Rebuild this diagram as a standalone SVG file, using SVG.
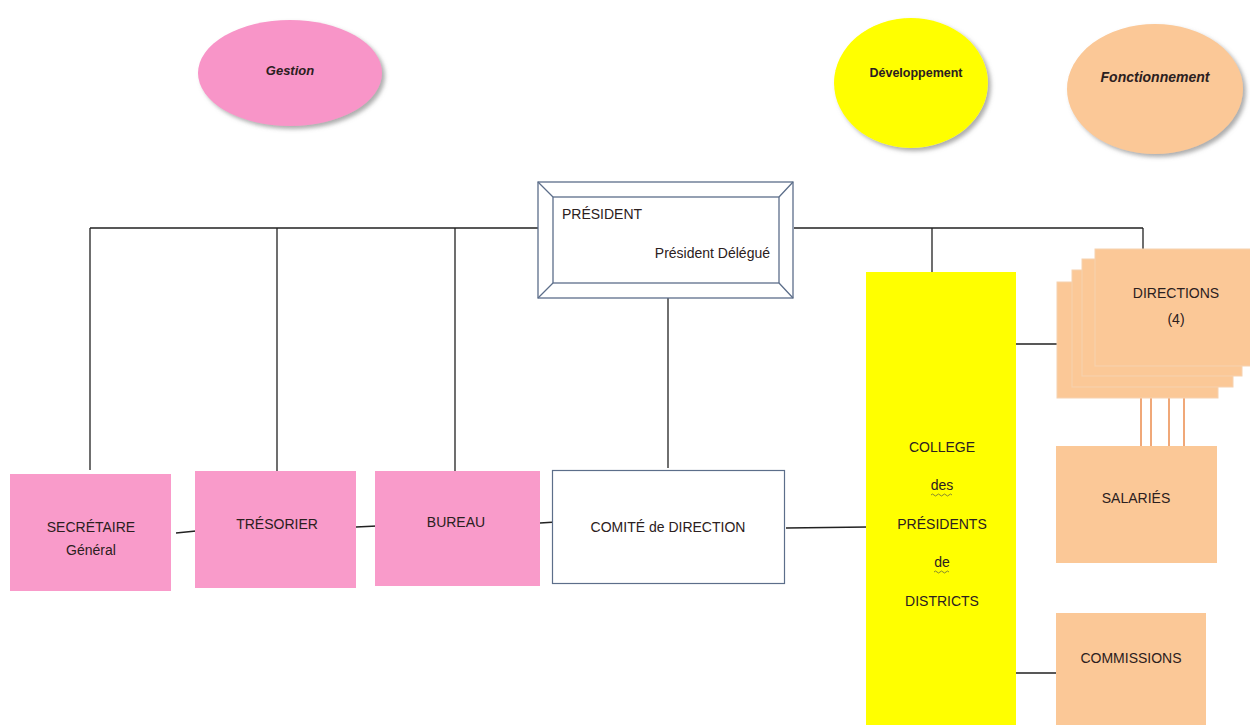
<svg xmlns="http://www.w3.org/2000/svg" width="1250" height="725" viewBox="0 0 1250 725">
<defs>
<filter id="sh" x="-20%" y="-20%" width="150%" height="150%">
<feDropShadow dx="3" dy="3" stdDeviation="2" flood-color="#777" flood-opacity="0.6"/>
</filter>
<style>
text{font-family:"Liberation Sans",Arial,sans-serif;font-size:14px;fill:#2b2020;text-anchor:middle}
.ell{font-weight:bold;font-size:13px}
.it{font-style:italic}
.pink{fill:#F99BCA}
.yel{fill:#FFFF00}
.peach{fill:#FBC897}
.con{stroke:#222;stroke-width:1.3;fill:none}
.or{stroke:#F0A878;stroke-width:2;fill:none}
.frame{stroke:#5C6E8A;stroke-width:1.3;fill:#fff}
.wavy{stroke:#6b6b3a;stroke-width:0.8;fill:none}
</style>
</defs>
<rect width="1250" height="725" fill="#fff"/>

<g id="connectors">
<path class="con" d="M90 228H538M794 228H1143"/>
<path class="con" d="M90 228V470M277 228V471M455 228V471M932 228V272M1143 228V250"/>
<path class="con" d="M668 298V468"/>
<path class="con" d="M176 533L196 531M356 527L377 526M540 523L556 522M786 528L868 527"/>
<path class="con" d="M1016 344H1057M1016 673H1056"/>
<path class="or" d="M1141 398V446M1151 387V446M1169 376V446M1184 366V446"/>
</g>

<g id="gestion">
<ellipse cx="290" cy="73" rx="92" ry="53" fill="#F895C8" filter="url(#sh)"/>
<text class="ell it" x="290" y="75">Gestion</text>
</g>
<g id="developpement">
<ellipse cx="911" cy="83" rx="77" ry="65" class="yel" filter="url(#sh)"/>
<text class="ell" x="916" y="77" style="font-size:12.5px">Développement</text>
</g>
<g id="fonctionnement">
<ellipse cx="1155" cy="89" rx="88" ry="65" class="peach" filter="url(#sh)"/>
<text class="ell it" x="1155" y="82" style="font-size:14px">Fonctionnement</text>
</g>

<g id="president">
<rect class="frame" x="538" y="182" width="255" height="116"/>
<rect class="frame" x="553" y="197" width="226" height="86"/>
<path class="frame" d="M538 182L553 197M793 182L779 197M538 298L553 283M793 298L779 283"/>
<text x="562" y="219" style="text-anchor:start">PRÉSIDENT</text>
<text x="770" y="258" style="text-anchor:end">Président Délégué</text>
</g>

<g id="secretaire">
<rect class="pink" x="10" y="474" width="161" height="117"/>
<text x="91" y="532">SECRÉTAIRE</text>
<text x="91" y="555">Général</text>
</g>
<g id="tresorier">
<rect class="pink" x="195" y="471" width="161" height="117"/>
<text x="277" y="529">TRÉSORIER</text>
</g>
<g id="bureau">
<rect class="pink" x="375" y="471" width="165" height="115"/>
<text x="456" y="527">BUREAU</text>
</g>
<g id="comite">
<rect x="552.5" y="470.5" width="232" height="113" fill="#fff" stroke="#5C6E8A" stroke-width="1.2"/>
<text x="668" y="532">COMITÉ de DIRECTION</text>
</g>

<g id="college">
<rect class="yel" x="866" y="272" width="150" height="453"/>
<text x="942" y="452">COLLEGE</text>
<text x="942" y="490">des</text>
<path class="wavy" d="M931 495q1.5-2 3 0t3 0t3 0t3 0t3 0t3 0t3 0"/>
<text x="942" y="529">PRÉSIDENTS</text>
<text x="942" y="567">de</text>
<path class="wavy" d="M934 572q1.5-2 3 0t3 0t3 0t3 0t3 0"/>
<text x="942" y="606">DISTRICTS</text>
</g>

<g id="directions">
<rect class="peach" x="1057" y="282" width="161" height="116" stroke="#F6D2B0" stroke-width="1"/>
<rect class="peach" x="1072" y="270" width="161" height="117" stroke="#F6D2B0" stroke-width="1"/>
<rect class="peach" x="1082" y="259" width="160" height="117" stroke="#F6D2B0" stroke-width="1"/>
<rect class="peach" x="1095" y="249" width="160" height="117" stroke="#F6D2B0" stroke-width="1"/>
<text x="1176" y="298">DIRECTIONS</text>
<text x="1176" y="324">(4)</text>
</g>
<g id="salaries">
<rect class="peach" x="1056" y="446" width="161" height="117"/>
<text x="1136" y="503">SALARIÉS</text>
</g>
<g id="commissions">
<rect class="peach" x="1056" y="613" width="150" height="112"/>
<text x="1131" y="663">COMMISSIONS</text>
</g>
</svg>
